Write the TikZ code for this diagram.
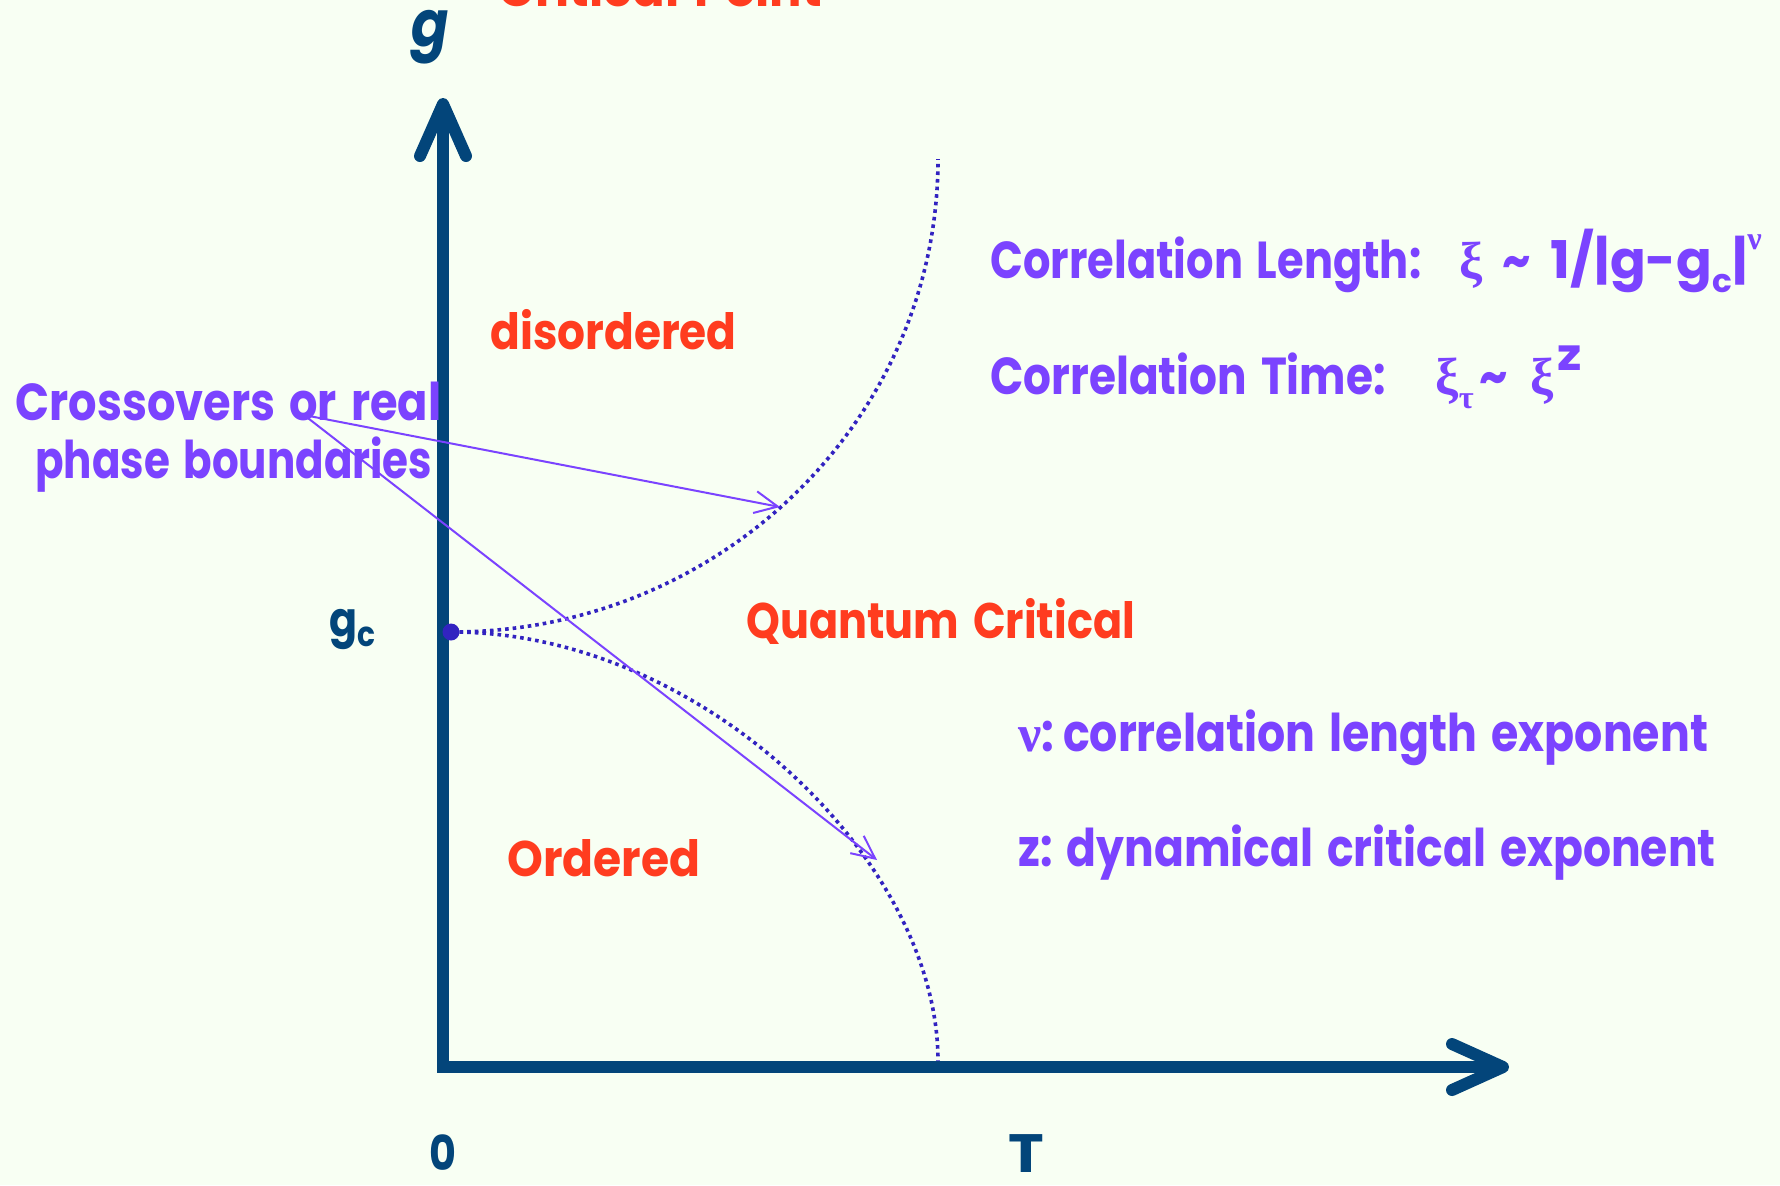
\documentclass[tikz,border=0pt]{standalone}
\usepackage{fontspec}
\setmainfont{Poppins}[FakeStretch=0.86, WordSpace=1.5]
\newfontfamily\grk{Liberation Serif}
\usetikzlibrary{arrows.meta}
\definecolor{bgc}{HTML}{F8FFF3}
\definecolor{axisblue}{HTML}{03457A}
\definecolor{qred}{HTML}{FF3C1F}
\definecolor{qpurple}{HTML}{7B43FF}
\definecolor{dotblue}{HTML}{3223C0}
\newcommand\lowsub[1]{\raisebox{-0.28em}{\scalebox{0.62}{#1}}}
\newcommand\highsup[1]{\raisebox{0.55em}{\scalebox{0.62}{#1}}}
\begin{document}
\begin{tikzpicture}[x=0.5pt,y=-0.5pt,
  axisline/.style={draw=axisblue, line width=6pt, line join=miter},
  chev/.style={draw=axisblue, line width=6pt, line cap=round, line join=round},
  dotcurve/.style={draw=dotblue, line width=1.8pt, dash pattern=on 1.8pt off 2pt},
  parrow/.style={draw=qpurple, line width=1pt, -{Straight Barb[length=11.5pt,width=11pt]}},
  redlbl/.style={inner sep=0pt, anchor=base west, text=qred, font=\fontsize{25}{30}\selectfont\bfseries},
  purplbl/.style={inner sep=0pt, anchor=base west, text=qpurple, font=\fontsize{26}{31}\selectfont\bfseries},
  axlbl/.style={inner sep=0pt, text=axisblue, font=\fontsize{24}{29}\selectfont\bfseries}]
\path[use as bounding box, fill=bgc] (0,0) rectangle (1780,1185);
\clip (0,0) rectangle (1780,1185);
% coordinates
\coordinate (O) at (443,1067);
\coordinate (ytip) at (443,104);
\coordinate (xtip) at (1503,1067);
\coordinate (gc) at (452,632);
\coordinate (ctop) at (938,159);
\coordinate (cbot) at (938,1061);
\coordinate (src) at (304,415);
\coordinate (a1) at (780,507);
\coordinate (a2) at (877,860);
% axes
\draw[axisline] (ytip) -- (O) -- (xtip);
\draw[chev] (ytip) ++(-23,52) -- (ytip) -- ++(23,52);
\draw[chev] (xtip) ++(-51,-23) -- (xtip) -- ++(-51,23);
% dotted boundaries
\draw[dotcurve] (gc) .. controls +(268,0) and +(0,261) .. (ctop);
\draw[dotcurve] (gc) .. controls +(250,0) and +(0,-200) .. (cbot);
\node[circle, fill=dotblue, inner sep=0pt, minimum size=8.5pt] (gcdot) at (451,632) {};
% pointer arrows
\draw[parrow] (src) -- (a1);
\draw[parrow] (src) -- (a2);
% labels
\node[redlbl] (crit) at (498,6) {\scalebox{1.12}[1]{Critical Point}};
\node[redlbl] (dis) at (490,349) {\scalebox{1.02}[1]{disordered}};
\node[redlbl] (qc) at (746,638) {Quantum Critical};
\node[redlbl] (ord) at (507,876) {\scalebox{1.06}[1]{Ordered}};
\node[purplbl] (cr1) at (15,420) {Crossovers or real};
\node[purplbl] (cr2) at (35,478) {\scalebox{0.94}[1]{phase boundaries}};
\node[purplbl] (cl) at (990,278) {\scalebox{0.965}[1]{Correlation Length:}\hspace{19pt}{\grk ξ}\hspace{10pt}\textasciitilde\hspace{10pt}\scalebox{1.18}[1]{1/|g-g\lowsub{c}|}\highsup{\grk ν}};
\node[purplbl] (ct) at (990,394) {\scalebox{0.98}[1]{Correlation Time:}\hspace{25pt}{\grk ξ}\lowsub{\grk τ}\hspace{3pt}\textasciitilde\hspace{11pt}{\grk ξ}\hspace{2pt}\raisebox{0.45em}{\scalebox{1.1}[0.85]{z}}};
\node[purplbl] (nu) at (1018,751) {{\grk ν}:\,\scalebox{0.99}[1]{correlation length exponent}};
\node[purplbl] (zz) at (1018,866) {\scalebox{0.985}[1]{z:\ dynamical critical exponent}};
\node[axlbl, anchor=base, font=\fontsize{32}{38}\selectfont\bfseries\itshape] (glab) at (430,46) {g};
\node[axlbl, anchor=base west, font=\fontsize{24}{29}\selectfont\bfseries] (gclab) at (329,636) {g\raisebox{-0.22em}{\scalebox{0.72}{c}}};
\node[axlbl] (zero) at (443,1153) {0};
\node[axlbl, anchor=base, font=\fontsize{27}{32}\selectfont\bfseries] (tlab) at (1026,1172) {\scalebox{1.3}[1]{T}};
\end{tikzpicture}
\end{document}
